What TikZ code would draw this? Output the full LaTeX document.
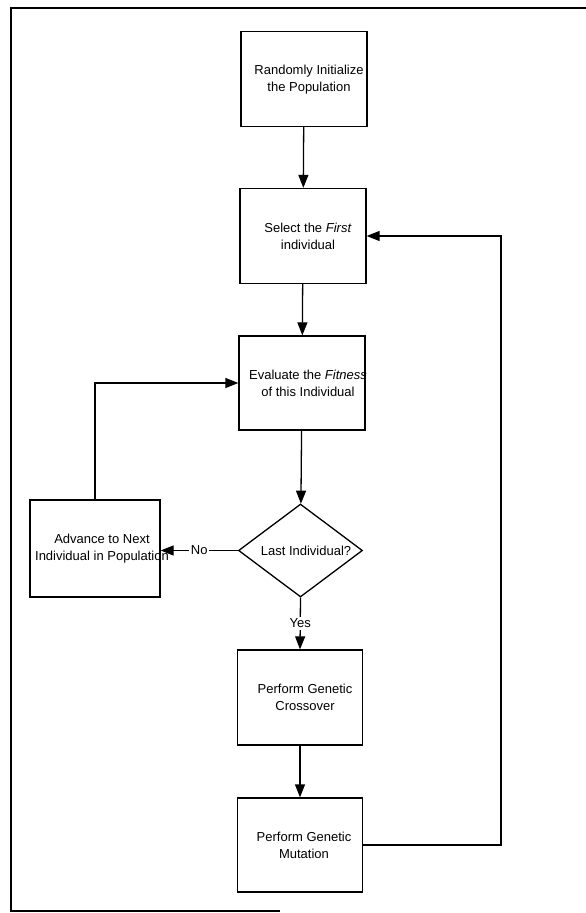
\documentclass[tikz,border=0pt]{standalone}
\usepackage{fontspec}
\setmainfont{Liberation Sans}
\usetikzlibrary{shapes.geometric,arrows.meta}
\begin{document}
\begin{tikzpicture}[x=1pt,y=-1pt,
  line width=1.3pt,
  font=\fontsize{13}{17}\selectfont,
  stepbox/.style={draw,rectangle,inner sep=0pt,minimum width=126pt,minimum height=95pt},
  decbox/.style={draw,diamond,inner sep=0pt,minimum width=124pt,minimum height=93pt},
  txt/.style={align=center,inner sep=0pt},
  flow/.style={-{Triangle[length=13pt,width=10pt]}},
  tag/.style={fill=white,inner sep=1.5pt}]
\useasboundingbox (0,0) rectangle (586,913);
% outer frame
\draw (586,8) -- (11,8) -- (11,911) -- (280,911);
% process boxes
\node[stepbox] (init) at (304,79) {};
\node[txt] (initT) at (309,79.5) {Randomly Initialize\\the Population};
\node[stepbox] (sel) at (303,236) {};
\node[txt] (selT) at (308,236) {Select the \textit{First}\\individual};
\node[stepbox,minimum height=94pt] (eval) at (302,383) {};
\node[txt] (evalT) at (308,383) {Evaluate the \textit{Fitness}\\of this Individual};
\node[decbox] (dec) at (300.5,550.5) {};
\node[txt] (decT) at (306,550.5) {Last Individual?};
\node[stepbox,minimum width=130pt,minimum height=97pt] (adv) at (95,548.5) {};
\node[txt] (advT) at (102,548.5) {Advance to Next\\Individual in Population};
\node[stepbox,minimum width=125pt] (cross) at (300,697.5) {};
\node[txt] (crossT) at (305,697.5) {Perform Genetic\\Crossover};
\node[stepbox,minimum width=125pt,minimum height=94pt] (mut) at (300,845) {};
\node[txt] (mutT) at (304,845) {Perform Genetic\\Mutation};
% connectors
\draw[flow] (init) -- (sel);
\draw[flow] (sel) -- (eval);
\draw[flow] (eval) -- (dec);
\draw[flow] (dec.west) -- node[tag,pos=0.5] (no) {No} (adv.east |- dec.west);
\draw[flow] (dec.south) -- node[tag,pos=0.5] (yes) {Yes} (cross.north);
\draw[flow] (cross) -- (mut);
\draw[flow] (adv.north) |- (eval.west);
\coordinate (back) at (501,845);
\draw[flow] (mut.east) -- (back) |- (sel.east);
\end{tikzpicture}
\end{document}
